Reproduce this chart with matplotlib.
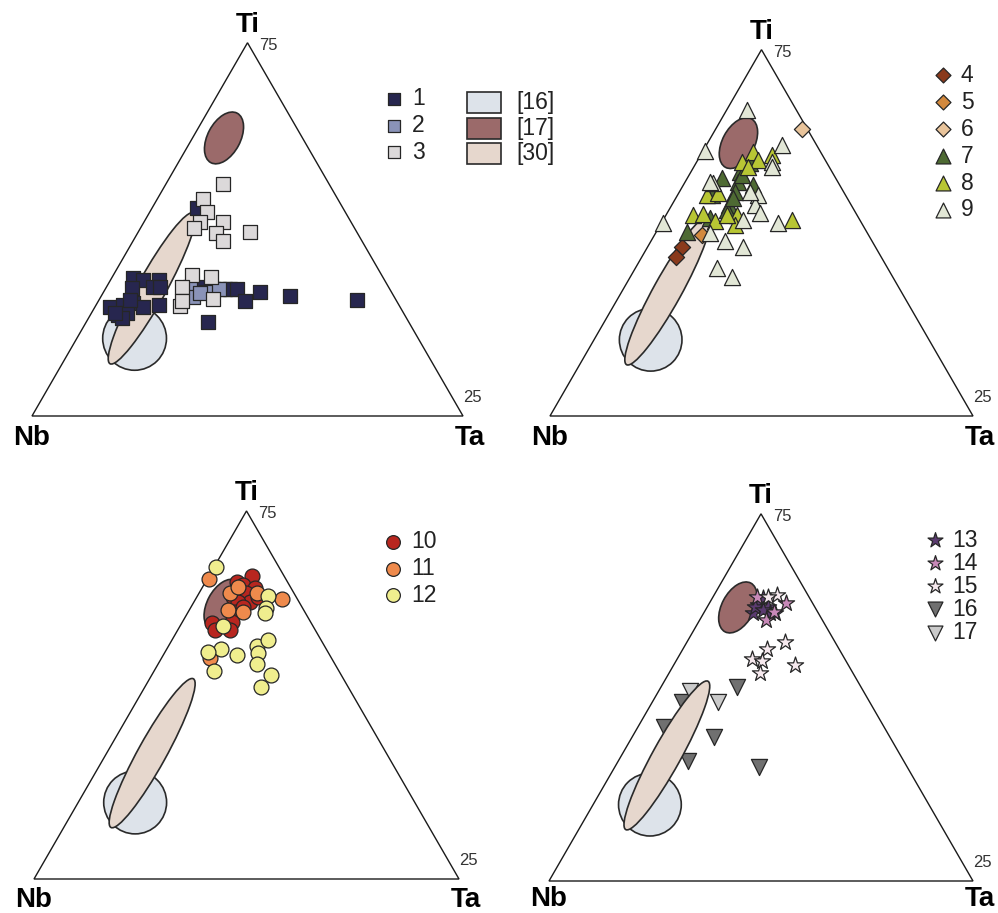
import numpy as np
import matplotlib.pyplot as plt
from matplotlib.patches import Ellipse, Polygon, Rectangle

plt.rcParams['font.family'] = ['Liberation Sans', 'DejaVu Sans']

W, H = 998, 913
SQ3 = np.sqrt(3) / 2

# ===== Compositions: Ti %, Ta % (Nb is the remainder) =====
# panel a
s1_ti = [55.8, 36.9, 36.4, 36.4, 34.2, 34.6, 34.5, 29.3, 29.7, 30.2, 29.3, 27.1, 27.5, 29.7,
         26.2, 27.5, 31.1, 33.9, 34.0, 34.0, 33.3, 32.1, 31.1, 30.8, 25.1, 34.5, 34.0]
s1_ta = [10.3, 4.9, 7.6, 11.3, 6.0, 10.8, 12.4, 3.4, 6.3, 8.4, 11.2, 6.5, 8.2, 14.7,
         7.7, 5.5, 7.2, 27.8, 28.9, 30.5, 36.3, 43.8, 59.8, 34.0, 28.4, 21.7, 25.0]
s2_ti = [34.5, 32.0, 33.3, 34.0, 33.0]
s2_ta = [19.4, 21.4, 23.7, 26.5, 22.5]
s3_ti = [62.2, 58.1, 54.7, 51.9, 50.3, 52.1, 49.1, 47.0, 49.4, 37.8, 37.2, 34.6, 29.5, 30.8, 31.3]
s3_ta = [13.1, 10.7, 13.2, 13.0, 12.5, 18.2, 18.1, 20.7, 25.9, 18.2, 22.9, 17.4, 19.6, 19.3, 26.3]

# panel b
s4_ti = [46.1, 43.3]
s4_ta = [8.1, 8.1]
s5_ti = [49.4]
s5_ta = [11.3]
s6_ti = [78.3]
s6_ta = [20.4]
s7_ti = [64.9, 69.0, 66.7, 64.0, 63.1, 61.2, 60.3, 57.6, 56.2, 54.0, 50.3, 65.8, 59.4]
s7_ta = [8.1, 12.8, 11.6, 12.5, 16.5, 13.1, 8.1, 13.4, 13.7, 10.8, 7.2, 12.4, 13.6]
s8_ti = [72.1, 71.2, 69.9, 69.4, 60.3, 60.8, 54.9, 55.1, 54.9, 52.1, 53.2, 53.5, 68.1, 54.9]
s8_ta = [12.0, 16.8, 14.3, 10.6, 6.9, 9.4, 6.4, 8.7, 16.7, 17.7, 12.4, 30.4, 12.8, 14.3]
s9_ti = [83.5, 72.3, 74.0, 52.6, 52.6, 47.8, 46.2, 40.5, 38.0, 63.5, 60.3, 57.6, 55.3, 69.4,
         61.2, 53.5, 49.9, 68.0, 64.0]
s9_ta = [4.8, 0.4, 17.8, 0.4, 27.7, 17.5, 22.5, 19.2, 24.0, 6.7, 19.1, 19.7, 22.0, 17.7,
         16.7, 18.9, 12.9, 18.4, 5.8]

# panel c
s10_ti = [82.3, 80.8, 79.9, 79.0, 77.6, 76.7, 75.3, 75.3, 72.6, 69.5, 67.7, 69.9, 67.7, 76.7, 74.0]
s10_ta = [10.1, 7.3, 9.3, 12.5, 11.2, 8.5, 13.2, 10.4, 11.0, 7.1, 8.7, 11.6, 12.3, 14.4, 12.2]
s11_ti = [81.4, 76.0, 60.0, 73.1, 77.6, 72.6, 79.4, 77.6]
s11_ta = [0.4, 20.4, 11.4, 9.2, 7.3, 12.9, 8.4, 13.6]
s12_ti = [84.7, 76.9, 73.5, 72.2, 68.7, 62.4, 60.9, 63.3, 64.9, 61.5, 58.4, 56.6, 55.4, 52.1, 61.8]
s12_ta = [0.4, 16.7, 17.8, 18.3, 10.2, 12.7, 17.2, 20.8, 22.5, 22.0, 23.2, 14.1, 28.0, 27.4, 10.1]

# panel d
s13_ti = [77.0, 75.2, 74.7, 72.9, 72.9, 74.7, 73.8, 72.9]
s13_ta = [12.0, 11.8, 14.4, 11.7, 15.7, 11.2, 13.6, 16.9]
s14_ti = [75.8, 71.1, 73.3, 77.4]
s14_ta = [18.0, 15.6, 16.3, 10.3]
s15_ti = [77.9, 65.2, 63.1, 60.5, 59.9, 56.6, 58.8, 77.4]
s15_ta = [14.8, 23.1, 19.8, 17.6, 20.2, 21.5, 28.6, 13.0]
s16_ti = [52.7, 48.8, 42.0, 39.3, 32.8, 31.0]
s16_ta = [17.9, 6.9, 6.1, 19.3, 16.5, 34.1]
s17_ti = [51.8, 48.8, 33.7]
s17_ta = [7.4, 15.4, 10.1]

# reference fields: centre composition
field_names = ['[16]', '[17]', '[30]']
field_ti = [20.8, 74.5, 34.2]
field_ta = [13.4, 7.3, 10.7]
field_colors = ['#dde3ea', '#9b6a6a', '#e6d7cd']

# ===== Styles =====
EDGE = '#262626'
series = {
    1: (s1_ti, s1_ta, 's', '#27264f', 100),
    2: (s2_ti, s2_ta, 's', '#8a93b8', 100),
    3: (s3_ti, s3_ta, 's', '#dcd9da', 100),
    4: (s4_ti, s4_ta, 'D', '#8a3a1c', 68),
    5: (s5_ti, s5_ta, 'D', '#d2893e', 68),
    6: (s6_ti, s6_ta, 'D', '#e9c49b', 68),
    7: (s7_ti, s7_ta, '^', '#4e6a33', 135),
    8: (s8_ti, s8_ta, '^', '#b8c634', 135),
    9: (s9_ti, s9_ta, '^', '#e2e7d6', 135),
    10: (s10_ti, s10_ta, 'o', '#b8261f', 115),
    11: (s11_ti, s11_ta, 'o', '#ef8a4c', 115),
    12: (s12_ti, s12_ta, 'o', '#f0ee8e', 115),
    13: (s13_ti, s13_ta, '*', '#5b3b70', 150),
    14: (s14_ti, s14_ta, '*', '#c889b8', 150),
    15: (s15_ti, s15_ta, '*', '#f6e9ee', 150),
    16: (s16_ti, s16_ta, 'v', '#707070', 135),
    17: (s17_ti, s17_ta, 'v', '#cacaca', 135),
}

# panel layout: Nb corner (px), base line (px), side length (px)
panels = [
    dict(xn=32, yb=416, w=431, groups=[1, 2, 3], lx=0.84, ly=0.7355, ldy=0.0615, base_lab=-0.068),
    dict(xn=550, yb=416, w=423, groups=[4, 5, 6, 7, 8, 9], lx=0.929, ly=0.806, ldy=0.0638,
         base_lab=-0.068),
    dict(xn=34, yb=879, w=425, groups=[10, 11, 12], lx=0.845, ly=0.793, ldy=0.0625,
         base_lab=-0.066),
    dict(xn=549, yb=881, w=424, groups=[13, 14, 15, 16, 17], lx=0.91, ly=0.804, ldy=0.0545,
         base_lab=-0.058),
]


def tern(ti, ta):
    ti = np.asarray(ti, dtype=float) / 100
    ta = np.asarray(ta, dtype=float) / 100
    return ta + ti / 2, ti * SQ3


fig = plt.figure(figsize=(W / 100, H / 100), dpi=100)
fig.patch.set_facecolor('white')

X0, X1, Y0, Y1 = -0.12, 1.2, -0.12, 0.98

for p in panels:
    xn, yb, w = p['xn'], p['yb'], p['w']
    rect = [(xn + X0 * w) / W, (H - (yb - Y0 * w)) / H, (X1 - X0) * w / W, (Y1 - Y0) * w / H]
    ax = fig.add_axes(rect)
    ax.set_xlim(X0, X1)
    ax.set_ylim(Y0, Y1)
    ax.axis('off')
    ax.patch.set_alpha(0)

    # triangle frame
    ax.add_patch(Polygon([[0, 0], [1, 0], [0.5, SQ3]], closed=True, fill=False,
                         edgecolor='#1a1a1a', lw=1.0, zorder=1))

    # reference fields
    fx, fy = tern(field_ti, field_ta)
    field_zorder = 4 if 16 in p['groups'] else 2
    ax.add_patch(Ellipse((fx[0], fy[0]), 0.148, 0.148, facecolor=field_colors[0],
                         edgecolor='#2a2a2a', lw=1.2, zorder=field_zorder))
    ax.add_patch(Ellipse((fx[1], fy[1]), 0.13, 0.076, angle=62, facecolor=field_colors[1],
                         edgecolor='#2a2a2a', lw=1.2, zorder=field_zorder))
    ax.add_patch(Ellipse((fx[2], fy[2]), 0.40, 0.066, angle=61, facecolor=field_colors[2],
                         edgecolor='#2a2a2a', lw=1.2, zorder=field_zorder + 0.1))

    # data points
    for g in p['groups']:
        ti, ta, mk, col, s = series[g]
        x, y = tern(ti, ta)
        z = 3 if g in (16, 17) else 5
        ax.scatter(x, y, marker=mk, s=s, c=col, edgecolors=EDGE, linewidths=0.9, zorder=z)

    # corner labels
    ax.text(0.5, SQ3 + 0.026, 'Ti', ha='center', va='baseline', fontsize=20, fontweight='bold')
    ax.text(0.0, p['base_lab'], 'Nb', ha='center', va='baseline', fontsize=20, fontweight='bold')
    ax.text(1.016, p['base_lab'], 'Ta', ha='center', va='baseline', fontsize=20, fontweight='bold')
    ax.text(0.528, 0.86, '75', ha='left', va='center', fontsize=12, color='#333333')
    ax.text(1.0, 0.044, '25', ha='left', va='center', fontsize=12, color='#333333')

    # legend column
    for i, g in enumerate(p['groups']):
        _, _, mk, col, s = series[g]
        yy = p['ly'] - i * p['ldy']
        ax.scatter([p['lx']], [yy], marker=mk, s=s * 0.85, c=col, edgecolors=EDGE,
                   linewidths=0.9, zorder=6, clip_on=False)
        ax.text(p['lx'] + 0.042, yy, str(g), ha='left', va='center', fontsize=16.5,
                color='#222222')

    # field key (first panel only)
    if 1 in p['groups']:
        for i, name in enumerate(field_names):
            yy = 0.7274 - i * 0.0597
            ax.add_patch(Rectangle((1.009, yy - 0.0244), 0.079, 0.0487,
                                   facecolor=field_colors[i], edgecolor='#2a2a2a',
                                   lw=1.2, clip_on=False, zorder=6))
            ax.text(1.124, yy, name, ha='left', va='center', fontsize=16.5, color='#222222')

fig.savefig('out.png', dpi=100)
